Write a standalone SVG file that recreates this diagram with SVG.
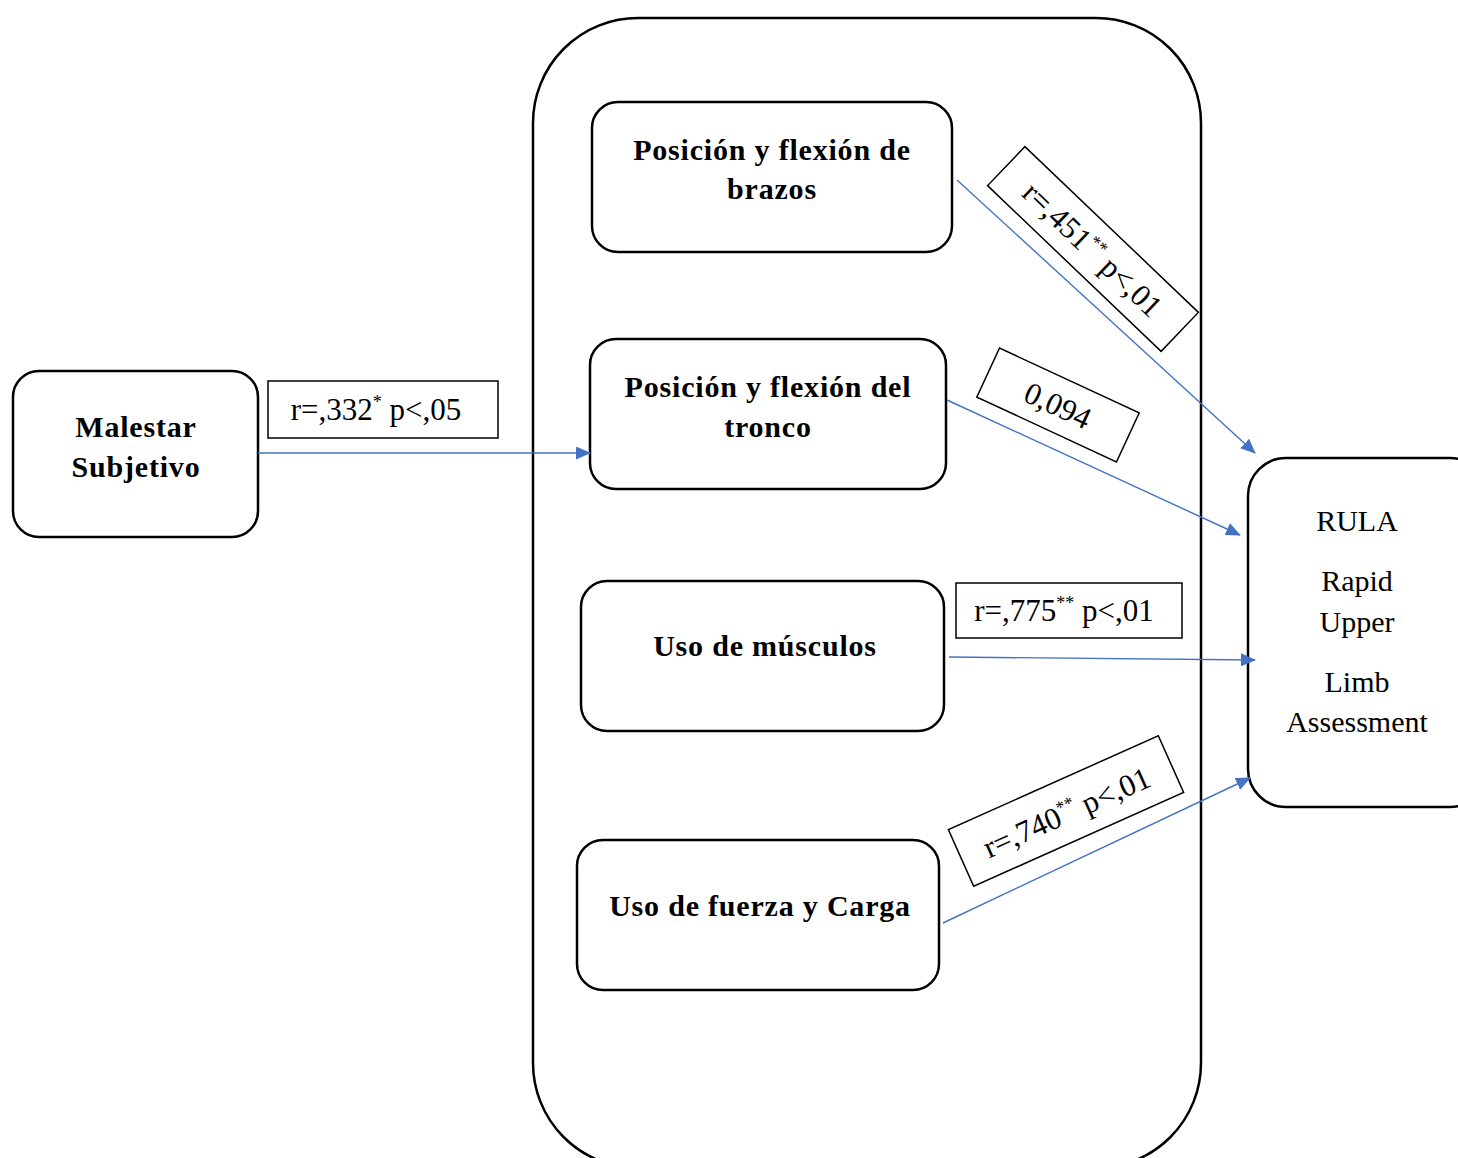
<svg xmlns="http://www.w3.org/2000/svg" width="1458" height="1158" viewBox="0 0 1458 1158">
<defs>
<marker id="arr" markerWidth="15" markerHeight="13" refX="14" refY="6.5" orient="auto" markerUnits="userSpaceOnUse" viewBox="0 0 15 13">
<path d="M0,0 L15,6.5 L0,13 Z" fill="#4472C4"/>
</marker>
<style>
.box{fill:#fff;stroke:#000;stroke-width:2.5}
.lbl{fill:#fff;stroke:#000;stroke-width:1.5}
.bt{font-family:"Liberation Serif",serif;font-weight:bold;font-size:30px;letter-spacing:0.8px;text-anchor:middle;fill:#000}
.rt{font-family:"Liberation Serif",serif;font-size:30px;text-anchor:middle;fill:#000}
.lt{font-family:"Liberation Serif",serif;font-size:31px;text-anchor:middle;fill:#000}
.con{stroke:#4472C4;stroke-width:1.4;fill:none;marker-end:url(#arr)}
</style>
</defs>
<rect width="1458" height="1158" fill="#fff"/>
<g id="container">
<rect x="533" y="18" width="668" height="1150" rx="105" ry="105" class="box"/>
</g>
<g id="malestar">
<rect x="13" y="371" width="245" height="166" rx="26" class="box"/>
<text class="bt" x="136" y="437">Malestar</text>
<text class="bt" x="136" y="477">Subjetivo</text>
</g>
<g id="brazos">
<rect x="592" y="102" width="360" height="150" rx="26" class="box"/>
<text class="bt" x="772" y="160">Posición y flexión de</text>
<text class="bt" x="772" y="199">brazos</text>
</g>
<g id="tronco">
<rect x="590" y="339" width="356" height="150" rx="26" class="box"/>
<text class="bt" x="768" y="397">Posición y flexión del</text>
<text class="bt" x="768" y="437">tronco</text>
</g>
<g id="musculos">
<rect x="581" y="581" width="363" height="150" rx="26" class="box"/>
<text class="bt" x="765" y="656">Uso de músculos</text>
</g>
<g id="fuerza">
<rect x="577" y="840" width="362" height="150" rx="26" class="box"/>
<text class="bt" x="760" y="916">Uso de fuerza y Carga</text>
</g>
<g id="rula">
<rect x="1248" y="458" width="240" height="349" rx="38" class="box"/>
<text class="rt" x="1357" y="531">RULA</text>
<text class="rt" x="1357" y="591">Rapid</text>
<text class="rt" x="1357" y="632">Upper</text>
<text class="rt" x="1357" y="692">Limb</text>
<text class="rt" x="1357" y="732">Assessment</text>
</g>
<g id="connectors">
<line class="con" x1="258" y1="453" x2="590" y2="453"/>
<line class="con" x1="957" y1="180" x2="1255" y2="453"/>
<line class="con" x1="947" y1="400" x2="1240" y2="535"/>
<line class="con" x1="949" y1="657" x2="1255" y2="660"/>
<line class="con" x1="943" y1="923" x2="1250" y2="778"/>
</g>
<g id="labels">
<g id="l332">
<rect x="268" y="381" width="230" height="57" class="lbl"/>
<text class="lt" x="376" y="420">r=,332<tspan font-size="18" dy="-12">*</tspan><tspan dy="12"> p&lt;,05</tspan></text>
</g>
<g id="l775">
<rect x="956" y="583" width="226" height="55" class="lbl"/>
<text class="lt" x="1064" y="621">r=,775<tspan font-size="18" dy="-12">**</tspan><tspan dy="12"> p&lt;,01</tspan></text>
</g>
<g id="l451" transform="translate(1093,249) rotate(43.7)">
<rect x="-120" y="-27" width="240" height="54" class="lbl"/>
<text class="lt" x="0" y="11">r=,451<tspan font-size="18" dy="-12">**</tspan><tspan dy="12"> p&lt;,01</tspan></text>
</g>
<g id="l094" transform="translate(1058,405) rotate(24.9)">
<rect x="-77" y="-27" width="154" height="54" class="lbl"/>
<text class="lt" x="0" y="11">0,094</text>
</g>
<g id="l740" transform="translate(1066,811) rotate(-24.1)">
<rect x="-115" y="-31" width="230" height="62" class="lbl"/>
<text class="lt" x="0" y="12">r=,740<tspan font-size="18" dy="-12">**</tspan><tspan dy="12"> p&lt;,01</tspan></text>
</g>
</g>
</svg>
